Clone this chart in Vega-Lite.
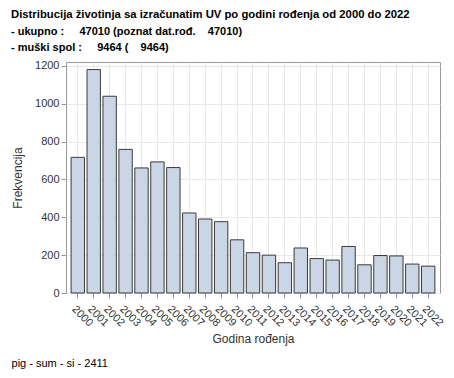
{
  "$schema": "https://vega.github.io/schema/vega-lite/v6.json",
  "background": "white",
  "padding": {"left": 11, "top": 9, "right": 5, "bottom": 5},
  "title": {
    "text": "Distribucija životinja sa izračunatim UV po godini rođenja od 2000 do 2022",
    "subtitle": ["- ukupno :\u00a0\u00a0\u00a0\u00a0 47010 (poznat dat.rođ.\u00a0\u00a0\u00a0 47010)", "- muški spol :\u00a0\u00a0\u00a0\u00a0 9464 (\u00a0\u00a0\u00a0 9464)"],
    "anchor": "start",
    "frame": "bounds",
    "font": "Liberation Sans",
    "fontSize": 11.3,
    "fontWeight": "bold",
    "color": "#000000",
    "subtitleFont": "Liberation Sans",
    "subtitleFontSize": 11,
    "subtitleFontWeight": "bold",
    "subtitleColor": "#000000",
    "subtitlePadding": 6,
    "subtitleLineHeight": 16,
    "offset": 6
  },
  "data": {"values": [
    {"year": "2000", "n": 717}, {"year": "2001", "n": 1181}, {"year": "2002", "n": 1040},
    {"year": "2003", "n": 759}, {"year": "2004", "n": 661}, {"year": "2005", "n": 693},
    {"year": "2006", "n": 663}, {"year": "2007", "n": 423}, {"year": "2008", "n": 391},
    {"year": "2009", "n": 377}, {"year": "2010", "n": 281}, {"year": "2011", "n": 213},
    {"year": "2012", "n": 200}, {"year": "2013", "n": 160}, {"year": "2014", "n": 238},
    {"year": "2015", "n": 182}, {"year": "2016", "n": 174}, {"year": "2017", "n": 246},
    {"year": "2018", "n": 149}, {"year": "2019", "n": 198}, {"year": "2020", "n": 196},
    {"year": "2021", "n": 153}, {"year": "2022", "n": 142}
  ]},
  "vconcat": [
    {
      "width": 374,
      "height": 231,
      "title": {
        "text": "pig - sum - si - 2411",
        "orient": "bottom",
        "anchor": "start",
        "frame": "bounds",
        "font": "Liberation Sans",
        "fontSize": 11,
        "fontWeight": "normal",
        "color": "#000000",
        "offset": 14
      },
      "mark": {"type": "bar", "fill": "#CAD5E5", "stroke": "#3A3A3A", "strokeWidth": 1},
      "encoding": {
        "x": {
          "field": "year", "type": "nominal", "sort": null,
          "scale": {"paddingInner": 0.16, "paddingOuter": 0.32},
          "axis": {
            "title": "Godina rođenja",
            "labelAngle": 45,
            "labelPadding": 5,
            "grid": true,
            "domain": false,
            "tickSize": 5,
            "tickColor": "#999999",
            "gridColor": "#E8E8E8",
            "labelFont": "Liberation Sans",
            "labelFontSize": 11,
            "labelColor": "#333333",
            "titleFont": "Liberation Sans",
            "titleFontSize": 12,
            "titleFontWeight": "normal",
            "titleColor": "#333333",
            "titlePadding": 5
          }
        },
        "y": {
          "field": "n", "type": "quantitative",
          "scale": {"domain": [0, 1221], "nice": false},
          "axis": {
            "title": "Frekvencija",
            "format": "d",
            "values": [0, 200, 400, 600, 800, 1000, 1200],
            "grid": true,
            "domain": false,
            "tickSize": 5,
            "tickColor": "#999999",
            "gridColor": "#E8E8E8",
            "labelFont": "Liberation Sans",
            "labelFontSize": 11,
            "labelColor": "#333333",
            "titleFont": "Liberation Sans",
            "titleFontSize": 12,
            "titleFontWeight": "normal",
            "titleColor": "#333333",
            "titlePadding": 10
          }
        }
      }
    }
  ],
  "config": {
    "view": {"stroke": "#999999", "strokeWidth": 1}
  }
}
